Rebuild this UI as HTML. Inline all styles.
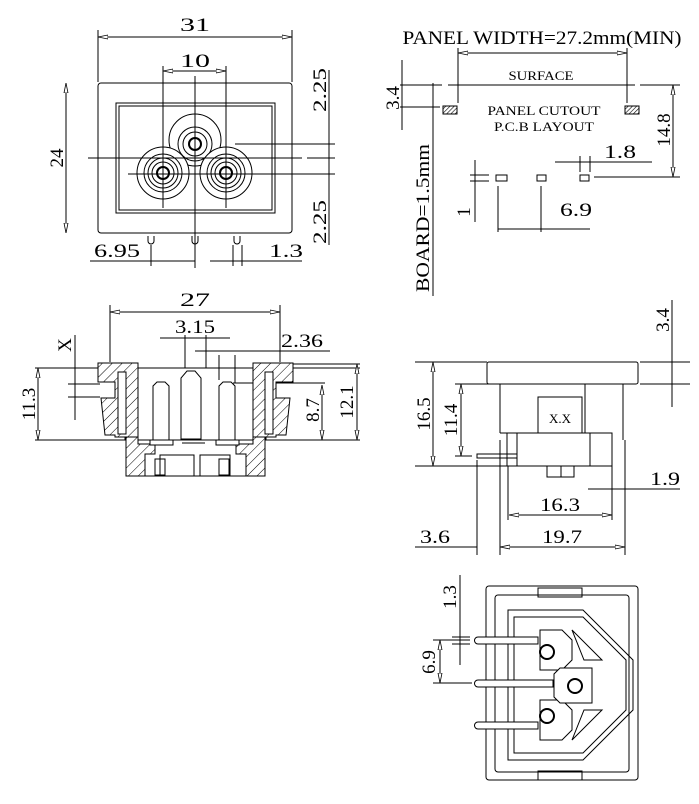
<!DOCTYPE html>
<html><head><meta charset="utf-8"><style>
html,body{margin:0;padding:0;background:#fff}
svg{display:block}
text{font-family:"Liberation Serif",serif;fill:#000}
</style></head><body>
<svg width="699" height="804" viewBox="0 0 699 804" xmlns="http://www.w3.org/2000/svg">
<defs>
<pattern id="h" width="7" height="7" patternUnits="userSpaceOnUse" patternTransform="rotate(45)">
<rect width="7" height="7" fill="#fff"/><line x1="0" y1="0" x2="0" y2="7" stroke="#000" stroke-width="1"/>
</pattern>
<pattern id="h2" width="3" height="3" patternUnits="userSpaceOnUse" patternTransform="rotate(45)">
<rect width="3" height="3" fill="#fff"/><line x1="0" y1="0" x2="0" y2="3" stroke="#000" stroke-width="1.2"/>
</pattern>
<marker id="a" viewBox="0 0 10 6" refX="10" refY="3" markerWidth="10" markerHeight="6" markerUnits="userSpaceOnUse" orient="auto-start-reverse">
<path d="M0 1L10 3L0 5z" fill="#fff" stroke="#000" stroke-width="0.8"/>
</marker>
</defs>
<g stroke="#000" stroke-width="1" fill="none">
<!-- ===== TOP-LEFT FRONT VIEW ===== -->
<line x1="98" y1="37" x2="292" y2="37" marker-start="url(#a)" marker-end="url(#a)"/>
<line x1="98" y1="30" x2="98" y2="82"/><line x1="292" y1="30" x2="292" y2="82"/>
<rect x="98" y="83" width="194" height="150" rx="3"/>
<rect x="116" y="103" width="159" height="110"/>
<rect x="119" y="106" width="153" height="104"/>
<g>
<circle cx="195" cy="140" r="26" fill="#fff"/><circle cx="195" cy="144" r="17"/><circle cx="195" cy="144" r="12"/><circle cx="195" cy="144" r="6" stroke-width="2"/>
<circle cx="163" cy="173" r="26" fill="#fff"/><circle cx="163" cy="173" r="19"/><circle cx="163" cy="173" r="15"/><circle cx="163" cy="173" r="11"/><circle cx="163" cy="173" r="6" stroke-width="2"/>
<circle cx="226" cy="173" r="26" fill="#fff"/><circle cx="226" cy="173" r="19"/><circle cx="226" cy="173" r="15"/><circle cx="226" cy="173" r="11"/><circle cx="226" cy="173" r="6" stroke-width="2"/>
</g>
<line x1="163" y1="66" x2="163" y2="208"/><line x1="226" y1="66" x2="226" y2="208"/>
<line x1="195" y1="76" x2="195" y2="268"/>
<line x1="163" y1="71" x2="226" y2="71" marker-start="url(#a)" marker-end="url(#a)"/>
<line x1="88" y1="158" x2="302" y2="158"/><line x1="307" y1="158" x2="335" y2="158"/>
<line x1="128" y1="174" x2="335" y2="174"/>
<line x1="235" y1="144" x2="335" y2="144"/>
<line x1="66" y1="83" x2="66" y2="233" marker-start="url(#a)" marker-end="url(#a)"/>
<line x1="329" y1="70" x2="329" y2="245"/>
<path d="M148 236v5a3 3 0 0 0 6 0v-5M192 236v5a3 3 0 0 0 6 0v-5M234 236v5a3 3 0 0 0 6 0v-5"/>
<line x1="90" y1="261" x2="195" y2="261"/><line x1="151" y1="245" x2="151" y2="266"/>
<line x1="210" y1="261" x2="302" y2="261"/><line x1="233" y1="245" x2="233" y2="266"/><line x1="242" y1="245" x2="242" y2="266"/>
<!-- ===== SIDE SECTION VIEW ===== -->
<line x1="110" y1="312" x2="280" y2="312" marker-start="url(#a)" marker-end="url(#a)"/>
<line x1="110" y1="305" x2="110" y2="362"/><line x1="280" y1="305" x2="280" y2="362"/>
<line x1="160" y1="338" x2="230" y2="338"/><line x1="185" y1="335" x2="185" y2="368"/><line x1="206" y1="335" x2="206" y2="368"/>
<line x1="195" y1="351" x2="330" y2="351"/><line x1="219" y1="355" x2="219" y2="380"/><line x1="235" y1="355" x2="235" y2="383"/>
<line x1="75" y1="335" x2="75" y2="420"/>
<line x1="68" y1="384" x2="100" y2="384"/><line x1="68" y1="397" x2="100" y2="397"/>
<line x1="35" y1="368" x2="360" y2="368"/><line x1="35" y1="440" x2="360" y2="440"/>
<line x1="38" y1="368" x2="38" y2="440" marker-start="url(#a)" marker-end="url(#a)"/>
<line x1="233" y1="383" x2="325" y2="383"/>
<line x1="322" y1="385" x2="322" y2="440" marker-start="url(#a)" marker-end="url(#a)"/>
<line x1="357" y1="364" x2="357" y2="440" marker-start="url(#a)" marker-end="url(#a)"/>
<line x1="290" y1="364" x2="360" y2="364"/>
<!-- hatched walls left -->
<path d="M98 363h40v77h-13v-3h-10v-2h-10l-4-37h14v-16h-17z" fill="url(#h)"/>
<rect x="118" y="372" width="8" height="62" fill="#fff"/>
<path d="M126 437h12v7h17v10h-10v22h-19z" fill="url(#h)"/>
<!-- hatched walls right -->
<path d="M293 363h-40v77h13v-3h10v-2h10l4-37h-14v-16h17z" fill="url(#h)"/>
<rect x="265" y="372" width="8" height="62" fill="#fff"/>
<path d="M265 437h-12v7h-17v10h10v22h19z" fill="url(#h)"/>
<!-- bottom center -->
<line x1="145" y1="476" x2="246" y2="476"/>
<rect x="160" y="455" width="34" height="21"/><rect x="200" y="455" width="30" height="21"/>
<rect x="155" y="459" width="10" height="16"/><rect x="219" y="459" width="10" height="16"/>
<!-- pins -->
<path d="M181 439v-61l6-7h8l6 7v61z" fill="#fff"/>
<path d="M153 440v-54l4-4h8l4 4v54z" fill="#fff"/>
<path d="M219 440v-54l4-4h8l4 4v54z" fill="#fff"/>
<rect x="150" y="440" width="23" height="5" fill="#fff"/><rect x="216" y="440" width="23" height="5" fill="#fff"/>
<line x1="182" y1="443" x2="205" y2="443"/>
<!-- ===== TOP-RIGHT PANEL CUTOUT ===== -->
<line x1="458" y1="53" x2="627" y2="53" marker-start="url(#a)" marker-end="url(#a)"/>
<line x1="458" y1="48" x2="458" y2="103"/><line x1="627" y1="48" x2="627" y2="103"/>
<line x1="400" y1="85" x2="442" y2="85"/><line x1="448" y1="85" x2="635" y2="85"/><line x1="640" y1="85" x2="680" y2="85"/>
<rect x="443" y="106" width="14" height="8" fill="url(#h2)"/>
<rect x="625" y="106" width="14" height="8" fill="url(#h2)"/>
<line x1="402" y1="60" x2="402" y2="130"/><line x1="400" y1="107" x2="440" y2="107"/>
<line x1="433" y1="83" x2="433" y2="296"/>
<line x1="673" y1="85" x2="673" y2="177" marker-start="url(#a)" marker-end="url(#a)"/><line x1="594" y1="177" x2="680" y2="177"/>
<rect x="496" y="175" width="11" height="6"/><rect x="537" y="175" width="9" height="6"/><rect x="580" y="175" width="9" height="6"/>
<line x1="555" y1="162" x2="652" y2="162"/><line x1="580" y1="156" x2="580" y2="172"/><line x1="590" y1="156" x2="590" y2="172"/>
<line x1="475" y1="160" x2="475" y2="222"/><line x1="470" y1="175" x2="489" y2="175"/><line x1="470" y1="181" x2="489" y2="181"/>
<line x1="498" y1="186" x2="498" y2="232"/><line x1="541" y1="186" x2="541" y2="232"/>
<line x1="498" y1="229" x2="590" y2="229"/>
<!-- ===== RIGHT SIDE VIEW ===== -->
<rect x="487" y="362" width="151" height="22" rx="2"/>
<line x1="500" y1="384" x2="500" y2="433"/><line x1="585" y1="384" x2="585" y2="433"/><line x1="623" y1="384" x2="623" y2="440"/>
<rect x="538" y="397" width="44" height="36"/>
<line x1="500" y1="433" x2="612" y2="433"/>
<rect x="517" y="433" width="95" height="33"/>
<rect x="507" y="433" width="10" height="33"/>
<line x1="590" y1="433" x2="590" y2="466"/>
<rect x="547" y="466" width="14" height="11"/><rect x="561" y="466" width="13" height="11"/>
<rect x="477" y="454" width="40" height="4"/>
<line x1="415" y1="362" x2="487" y2="362"/><line x1="415" y1="466" x2="507" y2="466"/>
<line x1="433" y1="362" x2="433" y2="466" marker-start="url(#a)" marker-end="url(#a)"/>
<line x1="455" y1="384" x2="495" y2="384"/><line x1="455" y1="456" x2="472" y2="456"/>
<line x1="461" y1="384" x2="461" y2="456" marker-start="url(#a)" marker-end="url(#a)"/>
<line x1="640" y1="362" x2="690" y2="362"/><line x1="640" y1="384" x2="690" y2="384"/>
<line x1="672" y1="300" x2="672" y2="407"/>
<line x1="588" y1="489" x2="680" y2="489"/>
<line x1="612" y1="466" x2="612" y2="520"/><line x1="625" y1="440" x2="625" y2="555"/>
<line x1="509" y1="515" x2="612" y2="515" marker-start="url(#a)" marker-end="url(#a)"/><line x1="508" y1="466" x2="508" y2="520"/>
<line x1="477" y1="460" x2="477" y2="555"/><line x1="500" y1="440" x2="500" y2="555"/>
<line x1="415" y1="547" x2="477" y2="547"/><line x1="500" y1="547" x2="625" y2="547" marker-start="url(#a)" marker-end="url(#a)"/>
<!-- ===== BOTTOM VIEW ===== -->
<rect x="486" y="586" width="152" height="194" rx="3"/>
<rect x="495" y="595" width="134" height="177" rx="3"/>
<path d="M508 610h75l50 50v50l-50 50h-75z"/>
<path d="M514 617h69l43 43v50l-43 43h-69z"/>
<rect x="538" y="588" width="44" height="9"/><rect x="538" y="771" width="44" height="9"/>
<path d="M540 630h22l10 10v20l-10 10h-22z" fill="#fff"/>
<path d="M540 700h22l10 10v20l-10 10h-22z" fill="#fff"/>
<path d="M560 668h32v35h-32l-6-6v-23z" fill="#fff"/>
<path d="M572 630l30 30h-18zM572 740l30-30h-18z"/>
<path d="M478 637h60v7h-60a3 3 0 0 1 0-7z" fill="#fff"/>
<path d="M478 680h75v7h-75a3 3 0 0 1 0-7z" fill="#fff"/>
<path d="M478 722h60v7h-60a3 3 0 0 1 0-7z" fill="#fff"/>
<circle cx="547" cy="652" r="7" stroke-width="2" fill="#fff"/>
<circle cx="575" cy="686" r="7" stroke-width="2" fill="#fff"/>
<circle cx="547" cy="716" r="7" stroke-width="2" fill="#fff"/>
<line x1="460" y1="575" x2="460" y2="665"/>
<line x1="452" y1="637" x2="470" y2="637"/><line x1="452" y1="644" x2="470" y2="644"/>
<line x1="433" y1="640" x2="470" y2="640"/><line x1="433" y1="683" x2="472" y2="683"/>
<line x1="440" y1="640" x2="440" y2="683" marker-start="url(#a)" marker-end="url(#a)"/>
</g>
<!-- TEXT -->
<g font-size="19">
<text x="195" y="31" text-anchor="middle" textLength="30" lengthAdjust="spacingAndGlyphs">31</text>
<text x="195" y="67" text-anchor="middle" textLength="30" lengthAdjust="spacingAndGlyphs">10</text>
<text transform="translate(63,158) rotate(-90)" text-anchor="middle">24</text>
<text transform="translate(326,90) rotate(-90)" text-anchor="middle" textLength="44" lengthAdjust="spacingAndGlyphs">2.25</text>
<text transform="translate(326,222) rotate(-90)" text-anchor="middle" textLength="44" lengthAdjust="spacingAndGlyphs">2.25</text>
<text x="117" y="257" text-anchor="middle" textLength="46" lengthAdjust="spacingAndGlyphs">6.95</text>
<text x="286" y="257" text-anchor="middle" textLength="34" lengthAdjust="spacingAndGlyphs">1.3</text>
<text x="195" y="306" text-anchor="middle" textLength="30" lengthAdjust="spacingAndGlyphs">27</text>
<text x="195" y="333" text-anchor="middle" textLength="40" lengthAdjust="spacingAndGlyphs">3.15</text>
<text x="302" y="347" text-anchor="middle" textLength="42" lengthAdjust="spacingAndGlyphs">2.36</text>
<text transform="translate(71,345) rotate(-90)" text-anchor="middle">X</text>
<text transform="translate(35,404) rotate(-90)" text-anchor="middle">11.3</text>
<text transform="translate(319,410) rotate(-90)" text-anchor="middle">8.7</text>
<text transform="translate(353,402) rotate(-90)" text-anchor="middle">12.1</text>
<text x="542" y="44" text-anchor="middle" textLength="279" lengthAdjust="spacingAndGlyphs">PANEL  WIDTH=27.2mm(MIN)</text>
<text transform="translate(399,98) rotate(-90)" text-anchor="middle">3.4</text>
<text transform="translate(429,218) rotate(-90)" text-anchor="middle" textLength="148" lengthAdjust="spacingAndGlyphs">BOARD=1.5mm</text>
<text transform="translate(670,130) rotate(-90)" text-anchor="middle">14.8</text>
<text x="620" y="158" text-anchor="middle" textLength="32" lengthAdjust="spacingAndGlyphs">1.8</text>
<text transform="translate(470,212) rotate(-90)" text-anchor="middle">1</text>
<text x="576" y="216" text-anchor="middle" textLength="32" lengthAdjust="spacingAndGlyphs">6.9</text>
<text transform="translate(669,320) rotate(-90)" text-anchor="middle">3.4</text>
<text transform="translate(430,414) rotate(-90)" text-anchor="middle">16.5</text>
<text transform="translate(457,420) rotate(-90)" text-anchor="middle">11.4</text>
<text x="665" y="485" text-anchor="middle" textLength="30" lengthAdjust="spacingAndGlyphs">1.9</text>
<text x="560" y="511" text-anchor="middle" textLength="40" lengthAdjust="spacingAndGlyphs">16.3</text>
<text x="435" y="543" text-anchor="middle" textLength="30" lengthAdjust="spacingAndGlyphs">3.6</text>
<text x="562" y="543" text-anchor="middle" textLength="40" lengthAdjust="spacingAndGlyphs">19.7</text>
<text transform="translate(456,597) rotate(-90)" text-anchor="middle">1.3</text>
<text transform="translate(435,662) rotate(-90)" text-anchor="middle">6.9</text>
</g>
<g font-size="13">
<text x="541" y="80" text-anchor="middle" textLength="65" lengthAdjust="spacingAndGlyphs">SURFACE</text>
<text x="544" y="115" text-anchor="middle" textLength="113" lengthAdjust="spacingAndGlyphs">PANEL  CUTOUT</text>
<text x="544" y="131" text-anchor="middle" textLength="100" lengthAdjust="spacingAndGlyphs">P.C.B  LAYOUT</text>
<text x="560" y="423" text-anchor="middle" textLength="22" lengthAdjust="spacingAndGlyphs">X.X</text>
</g>
</svg>
</body></html>
